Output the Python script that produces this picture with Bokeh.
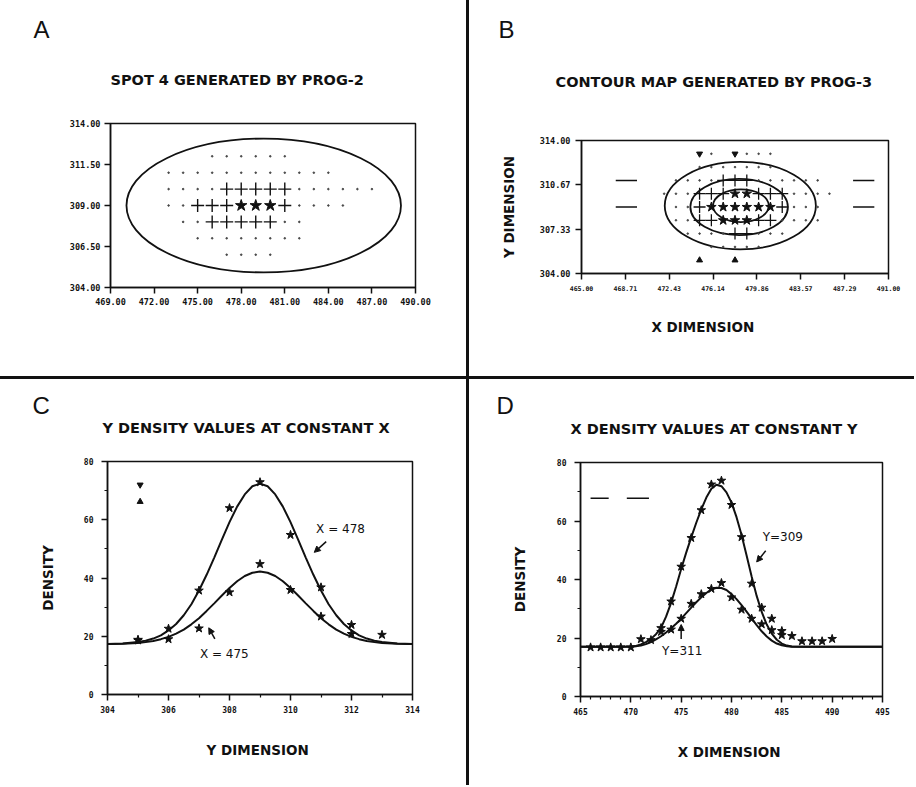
import math
from bokeh.plotting import figure
from bokeh.models import (Label, Arrow, NormalHead, FixedTicker, PrintfTickFormatter,
                          Div, Range1d, Title)
from bokeh.layouts import row, column
from bokeh.embed import file_html
from bokeh.resources import INLINE

# ---------------- Panel A : spot 4 ----------------
a_x_ticks = [469.0, 472.0, 475.0, 478.0, 481.0, 484.0, 487.0, 490.0]
a_y_ticks = [304.0, 306.5, 309.0, 311.5, 314.0]
a_star_x = [478, 479, 480]
a_star_y = [309, 309, 309]
a_plus_x = [477, 478, 479, 480, 481, 475, 476, 477, 481, 476, 477, 478, 479, 480]
a_plus_y = [310, 310, 310, 310, 310, 309, 309, 309, 309, 308, 308, 308, 308, 308]
a_dot_x = [476, 477, 478, 479, 480, 481,
           473, 474, 475, 476, 477, 478, 479, 480, 481, 482, 483, 484,
           473, 474, 475, 476, 482, 483, 484, 485, 486, 487,
           473, 474, 482, 483, 484, 485,
           474, 475, 481, 482,
           475, 476, 477, 478, 479, 480, 481, 482,
           477, 478, 479, 480]
a_dot_y = ([312] * 6 + [311] * 12 + [310] * 10 + [309] * 6 + [308] * 4 + [307] * 8 + [306] * 4)
a_contour_x = [479.55]
a_contour_y = [309.0]
a_contour_w = [18.9]
a_contour_h = [8.16]

# ---------------- Panel B : contour map ----------------
b_x_ticks = [465.0, 468.71, 472.43, 476.14, 479.86, 483.57, 487.29, 491.0]
b_y_ticks = [304.0, 307.33, 310.67, 314.0]
b_star_x = [478, 479, 476, 477, 478, 479, 480, 481, 477, 478, 479]
b_star_y = [310, 310, 309, 309, 309, 309, 309, 309, 308, 308, 308]
b_plus_x = [477, 478, 479, 475, 476, 477, 480, 481, 482, 475, 482, 475, 476, 480, 481, 478, 479]
b_plus_y = [311] * 3 + [310] * 6 + [309] * 2 + [308] * 4 + [307] * 2
b_dot_x = [476, 479, 480, 481,
           475, 476, 477, 478, 479, 480, 481,
           473, 474, 475, 476, 480, 481, 482, 483, 484, 485,
           472, 473, 474, 483, 484, 485, 486,
           473, 474, 483, 484, 485,
           473, 474, 482, 483, 484, 485,
           474, 475, 476, 477, 480, 481, 482,
           476, 477, 478, 479, 480]
b_dot_y = ([313] * 4 + [312] * 7 + [311] * 10 + [310] * 7 + [309] * 5 + [308] * 6 + [307] * 7 + [306] * 5)
b_contour_x = [478.45, 478.35, 478.5]
b_contour_y = [309.1, 309.0, 309.1]
b_contour_w = [12.8, 8.26, 4.72]
b_contour_h = [6.58, 4.22, 2.46]
b_tri_down_x = [475, 478]
b_tri_down_y = [313, 313]
b_tri_up_x = [475, 478]
b_tri_up_y = [305, 305]
b_dash_x0 = [467.9, 467.9, 488.0, 488.0]
b_dash_x1 = [469.7, 469.7, 489.8, 489.8]
b_dash_y = [311, 309, 311, 309]

# ---------------- Panel C : Y density at constant X ----------------
c_x_ticks = [304, 306, 308, 310, 312, 314]
c_x_minor = [305, 307, 309, 311, 313]
c_y_ticks = [0, 20, 40, 60, 80]
c_y_minor = [10, 30, 50, 70]
c_curve_x = [304.0, 304.5, 305.0, 305.25, 305.5, 305.75, 306.0, 306.25, 306.5, 306.75,
             307.0, 307.25, 307.5, 307.75, 308.0, 308.25, 308.5, 308.75, 309.0,
             309.25, 309.5, 309.75, 310.0, 310.25, 310.5, 310.75, 311.0, 311.25,
             311.5, 311.75, 312.0, 312.25, 312.5, 312.75, 313.0, 313.5, 314.0]
c_fit_478 = [17.3, 17.5, 18.0, 18.5, 19.2, 20.3, 22.0, 24.2, 27.2, 31.0,
             35.7, 41.1, 47.0, 53.2, 59.2, 64.5, 68.7, 71.5, 72.4,
             71.5, 68.7, 64.5, 59.2, 53.2, 47.0, 41.1, 35.7, 31.0,
             27.2, 24.2, 22.0, 20.3, 19.2, 18.5, 18.0, 17.5, 17.3]
c_fit_475 = [17.3, 17.4, 17.7, 18.0, 18.4, 19.0, 19.8, 20.9, 22.3, 24.1,
             26.2, 28.7, 31.3, 34.0, 36.6, 38.9, 40.7, 41.8, 42.2,
             41.8, 40.7, 38.9, 36.6, 34.0, 31.3, 28.7, 26.2, 24.1,
             22.3, 20.9, 19.8, 19.0, 18.4, 18.0, 17.7, 17.4, 17.3]
c_obs_478_x = [305, 306, 307, 308, 309, 310, 311, 312, 313]
c_obs_478_y = [18.8, 22.6, 35.7, 64.0, 72.9, 54.8, 36.8, 23.9, 20.5]
c_obs_475_x = [305, 306, 307, 308, 309, 310, 311, 312]
c_obs_475_y = [18.6, 19.0, 22.7, 35.1, 44.8, 35.9, 26.8, 20.8]
c_key_down = [305.07, 72.0]
c_key_up = [305.07, 66.2]

# ---------------- Panel D : X density at constant Y ----------------
d_x_ticks = [465, 470, 475, 480, 485, 490, 495]
d_x_minor = [466, 467, 468, 469, 471, 472, 473, 474, 476, 477, 478, 479, 481, 482, 483, 484,
             486, 487, 488, 489, 491, 492, 493, 494]
d_y_ticks = [0, 20, 40, 60, 80]
d_y_minor = [10, 30, 50, 70]
d_curve_x = [465.0, 469.0, 470.0, 470.5, 471.0, 471.5, 472.0, 472.5, 473.0, 473.5, 474.0, 474.5,
             475.0, 475.5, 476.0, 476.5, 477.0, 477.5, 478.0, 478.5, 479.0, 479.5, 480.0,
             480.5, 481.0, 481.5, 482.0, 482.5, 483.0, 483.5, 484.0, 484.5, 485.0, 485.5,
             486.0, 487.0, 495.0]
d_fit_309 = [17.0, 17.0, 17.1, 17.3, 17.8, 18.6, 19.7, 21.3, 23.5, 27.3, 32.0, 37.6,
             43.6, 49.2, 54.4, 59.4, 64.0, 68.0, 71.0, 72.4, 71.9, 69.8, 66.3,
             61.3, 55.2, 48.2, 41.0, 34.4, 28.9, 24.6, 21.5, 19.4, 18.1, 17.4,
             17.1, 17.0, 17.0]
d_fit_311 = [17.0, 17.0, 17.0, 17.2, 17.4, 17.9, 18.6, 19.5, 20.6, 21.9, 23.3, 24.9,
             26.6, 28.5, 30.4, 32.2, 33.9, 35.4, 36.6, 37.2, 37.1, 36.4, 35.0,
             33.3, 31.2, 29.0, 26.7, 24.4, 22.3, 20.5, 19.1, 18.1, 17.5, 17.2,
             17.0, 17.0, 17.0]
d_obs_309_x = [466, 467, 468, 469, 470, 471, 472, 473, 474, 475, 476, 477, 478, 479, 480,
               481, 482, 483, 484, 485, 486, 487, 488, 489, 490]
d_obs_309_y = [16.8, 16.8, 16.8, 16.8, 16.8, 19.6, 19.3, 23.4, 32.5, 44.4, 54.2, 63.7, 72.5,
               73.8, 65.5, 54.5, 38.6, 30.4, 26.6, 22.4, 20.7, 18.9, 18.9, 18.9, 19.7]
d_obs_311_x = [473, 474, 475, 476, 477, 478, 479, 480, 481, 482, 483, 484, 485]
d_obs_311_y = [22.1, 22.9, 26.6, 31.7, 35.0, 36.8, 38.8, 33.9, 29.7, 26.6, 24.7, 22.7, 21.0]
d_key_x0 = [466.0, 469.6]
d_key_x1 = [467.8, 471.8]
d_key_y = [67.8, 67.8]

TICK_FONT = "DejaVu Sans Mono"
TEXT_FONT = "DejaVu Sans"
INK = "#111111"


def make_fig(w, h, xr, yr, left, right, top, bottom):
    p = figure(width=w, height=h, x_range=Range1d(*xr), y_range=Range1d(*yr),
               output_backend="svg", toolbar_location=None, title=None,
               min_border_left=left, min_border_right=right,
               min_border_top=top, min_border_bottom=bottom)
    p.frame_align = False
    p.xgrid.visible = False
    p.ygrid.visible = False
    p.outline_line_color = INK
    p.outline_line_width = 1.5
    p.outline_line_alpha = 1.0
    p.background_fill_color = "white"
    p.border_fill_color = "white"
    for ax in (p.xaxis[0], p.yaxis[0]):
        ax.axis_line_color = INK
        ax.axis_line_width = 1.5
        ax.major_tick_line_color = INK
        ax.major_tick_line_width = 1.5
        ax.minor_tick_line_color = INK
        ax.minor_tick_line_width = 1.2
        ax.major_tick_out = 6
        ax.major_tick_in = 0
        ax.minor_tick_out = 3
        ax.minor_tick_in = 0
        ax.major_label_text_font = TICK_FONT
        ax.major_label_text_font_style = "bold"
        ax.major_label_text_color = INK
        ax.axis_label_text_font = TEXT_FONT
        ax.axis_label_text_font_style = "bold"
        ax.axis_label_text_font_size = "13.5px"
        ax.axis_label_text_color = INK
    return p


def headings(p, title, title_offset, title_standoff, letter, letter_offset, letter_standoff):
    # nearest the frame: the panel title; outermost: the panel letter
    p.add_layout(Title(text=title, align="left", offset=title_offset, standoff=title_standoff,
                       vertical_align="top", text_font=TEXT_FONT, text_font_size="14.5px",
                       text_font_style="bold", text_color=INK), "above")
    p.add_layout(Title(text=letter, align="left", offset=letter_offset, standoff=letter_standoff,
                       vertical_align="bottom", text_font="Liberation Sans", text_font_size="24px",
                       text_font_style="normal", text_color=INK), "above")


def data_text(p, x, y, text, size="12px"):
    p.add_layout(Label(x=x, y=y, text=text, text_font=TEXT_FONT, text_font_size=size,
                       text_color=INK, text_align="left", text_baseline="middle"))


def arrow(p, x0, y0, x1, y1):
    p.add_layout(Arrow(end=NormalHead(size=6, fill_color=INK, line_color=INK, line_width=1),
                       x_start=x0, y_start=y0, x_end=x1, y_end=y1,
                       line_color=INK, line_width=1.5))


# ---------------- figure A ----------------
pA = make_fig(466, 376, (469, 490), (304, 314), 110, 51, 123, 89)
pA.xaxis[0].ticker = FixedTicker(ticks=a_x_ticks, minor_ticks=[])
pA.yaxis[0].ticker = FixedTicker(ticks=a_y_ticks, minor_ticks=[])
pA.xaxis[0].formatter = PrintfTickFormatter(format="%.2f")
pA.yaxis[0].formatter = PrintfTickFormatter(format="%.2f")
pA.xaxis[0].major_label_text_font_size = "8.5px"
pA.yaxis[0].major_label_text_font_size = "8.5px"
pA.xaxis[0].major_label_standoff = 4
pA.yaxis[0].major_label_standoff = 4
pA.ellipse(x=a_contour_x, y=a_contour_y, width=a_contour_w, height=a_contour_h,
           fill_alpha=0, line_color=INK, line_width=1.8)
pA.scatter(a_dot_x, a_dot_y, marker="circle", size=1.6, color="#444444")
pA.scatter(a_plus_x, a_plus_y, marker="cross", size=13, line_color=INK, line_width=1.4)
pA.scatter(a_star_x, a_star_y, marker="star", size=12, color=INK)
headings(pA, "SPOT 4  GENERATED BY  PROG-2", 0, 67, "A", -77, -9)

# ---------------- figure B ----------------
pB = make_fig(445, 376, (465, 491), (304, 314), 112, 26, 140, 103)
pB.xaxis[0].ticker = FixedTicker(ticks=b_x_ticks, minor_ticks=[])
pB.yaxis[0].ticker = FixedTicker(ticks=b_y_ticks, minor_ticks=[])
pB.xaxis[0].formatter = PrintfTickFormatter(format="%.2f")
pB.yaxis[0].formatter = PrintfTickFormatter(format="%.2f")
pB.xaxis[0].major_label_text_font_size = "6.5px"
pB.yaxis[0].major_label_text_font_size = "8.5px"
pB.xaxis[0].major_label_standoff = 6
pB.yaxis[0].major_label_standoff = 5
pB.yaxis[0].axis_label = "Y DIMENSION"
pB.yaxis[0].axis_label_standoff = 20
pB.ellipse(x=b_contour_x, y=b_contour_y, width=b_contour_w, height=b_contour_h,
           fill_alpha=0, line_color=INK, line_width=1.8)
pB.scatter(b_dot_x, b_dot_y, marker="circle", size=1.6, color="#444444")
pB.scatter(b_plus_x, b_plus_y, marker="cross", size=12, line_color=INK, line_width=1.3)
pB.scatter(b_star_x, b_star_y, marker="star", size=10, color=INK)
pB.scatter(b_tri_down_x, b_tri_down_y, marker="inverted_triangle", size=6, color=INK)
pB.scatter(b_tri_up_x, b_tri_up_y, marker="triangle", size=6, color=INK)
pB.segment(x0=b_dash_x0, y0=b_dash_y, x1=b_dash_x1, y1=b_dash_y, line_color=INK, line_width=1.5)
headings(pB, "CONTOUR MAP GENERATED BY  PROG-3", -26, 97, "B", -83, -35)
pB.add_layout(Title(text="X  DIMENSION", align="left", offset=70, standoff=50,
                    vertical_align="top", text_font=TEXT_FONT, text_font_size="13.5px",
                    text_font_style="bold", text_color=INK), "below")

# ---------------- figure C ----------------
pC = make_fig(466, 406, (304, 314), (0, 80), 107, 54, 82, 91)
pC.xaxis[0].ticker = FixedTicker(ticks=c_x_ticks, minor_ticks=c_x_minor)
pC.yaxis[0].ticker = FixedTicker(ticks=c_y_ticks, minor_ticks=c_y_minor)
for ax in (pC.xaxis[0], pC.yaxis[0]):
    ax.major_label_text_font_size = "8px"
pC.xaxis[0].major_label_standoff = 5
pC.yaxis[0].major_label_standoff = 8
pC.xaxis[0].axis_label = "Y  DIMENSION"
pC.xaxis[0].axis_label_standoff = 26
pC.yaxis[0].axis_label = "DENSITY"
pC.yaxis[0].axis_label_standoff = 25
pC.line(c_curve_x, c_fit_478, line_color=INK, line_width=2)
pC.line(c_curve_x, c_fit_475, line_color=INK, line_width=2)
pC.scatter(c_obs_478_x, c_obs_478_y, marker="star", size=9, color=INK)
pC.scatter(c_obs_475_x, c_obs_475_y, marker="star", size=9, color=INK)
pC.scatter([c_key_down[0]], [c_key_down[1]], marker="inverted_triangle", size=6, color=INK)
pC.scatter([c_key_up[0]], [c_key_up[1]], marker="triangle", size=6, color=INK)
data_text(pC, 310.84, 56.9, "X = 478")
data_text(pC, 307.03, 13.9, "X = 475")
arrow(pC, 311.17, 52.5, 310.78, 48.8)
arrow(pC, 307.52, 19.1, 307.32, 22.9)
headings(pC, "Y DENSITY  VALUES AT CONSTANT  X", -5, 48, "C", -75, -47)

# ---------------- figure D ----------------
pD = make_fig(445, 406, (465, 495), (0, 80), 111, 32, 83, 89)
pD.xaxis[0].ticker = FixedTicker(ticks=d_x_ticks, minor_ticks=d_x_minor)
pD.yaxis[0].ticker = FixedTicker(ticks=d_y_ticks, minor_ticks=d_y_minor)
for ax in (pD.xaxis[0], pD.yaxis[0]):
    ax.major_label_text_font_size = "8px"
pD.xaxis[0].major_label_standoff = 5
pD.yaxis[0].major_label_standoff = 8
pD.xaxis[0].axis_label = "X  DIMENSION"
pD.xaxis[0].axis_label_standoff = 26
pD.yaxis[0].axis_label = "DENSITY"
pD.yaxis[0].axis_label_standoff = 26
pD.line(d_curve_x, d_fit_309, line_color=INK, line_width=2)
pD.line(d_curve_x, d_fit_311, line_color=INK, line_width=2)
pD.scatter(d_obs_309_x, d_obs_309_y, marker="star", size=9, color=INK)
pD.scatter(d_obs_311_x, d_obs_311_y, marker="star", size=9, color=INK)
pD.segment(x0=d_key_x0, y0=d_key_y, x1=d_key_x1, y1=d_key_y, line_color=INK, line_width=1.5)
data_text(pD, 483.1, 54.6, "Y=309")
data_text(pD, 473.1, 15.5, "Y=311")
arrow(pD, 483.4, 49.8, 482.5, 46.0)
arrow(pD, 475.0, 19.7, 475.0, 24.6)
headings(pD, "X DENSITY  VALUES AT CONSTANT Y", -10, 48, "D", -84, -45)

# ---------------- dividers & layout ----------------
vdiv_top = Div(text="", width=3, height=376, margin=0, styles={"background-color": INK})
vdiv_bot = Div(text="", width=3, height=406, margin=0, styles={"background-color": INK})
hdiv = Div(text="", width=914, height=3, margin=0, styles={"background-color": INK})

layout = column(row(pA, vdiv_top, pB), hdiv, row(pC, vdiv_bot, pD))

with open("out.html", "w") as f:
    f.write(file_html(layout, INLINE))
